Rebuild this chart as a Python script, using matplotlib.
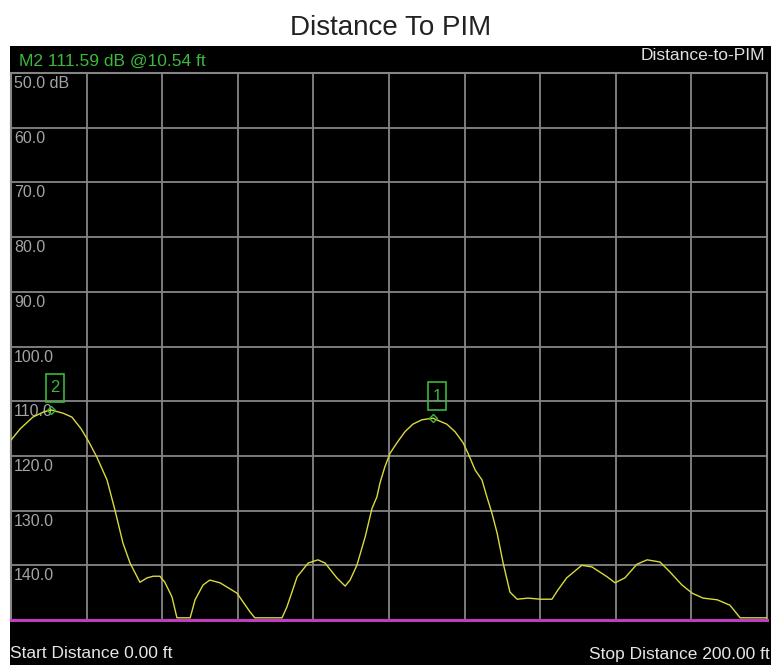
import matplotlib
matplotlib.use("Agg")
import matplotlib.pyplot as plt
from matplotlib.patches import Rectangle

plt.rcParams['font.family'] = ['Liberation Sans', 'DejaVu Sans']

# trace (distance in ft, level in dB)
dist_ft = [0.0, 2.5, 5.8, 8.5, 10.54, 13.8, 16.1, 18.5, 20.4, 22.7,
           25.4, 27.5, 29.6, 31.5, 34.1, 36.0, 37.6, 39.4, 40.7, 42.6,
           43.9, 47.4, 48.7, 50.8, 52.6, 55.3, 59.8, 63.2, 64.5, 71.7,
           73.0, 75.7, 78.6, 81.2, 83.1, 86.2, 88.4, 89.7, 91.5, 93.7,
           95.5, 96.8, 97.6, 98.9, 100.3, 102.1, 104.2, 106.3, 108.7, 111.6,
           115.3, 117.5, 119.6, 120.9, 122.8, 124.6, 125.9, 127.2, 128.6, 130.2,
           132.0, 133.9, 136.8, 140.0, 143.1, 144.7, 147.0, 151.0, 153.7, 157.7,
           159.8, 162.4, 165.6, 168.3, 171.7, 174.3, 177.5, 180.2, 183.1, 186.8,
           190.2, 192.9, 200.0]
level_db = [117.1, 115.0, 112.9, 112.0, 111.59, 112.2, 112.9, 115.0, 117.2, 120.2,
            124.4, 129.9, 135.9, 139.6, 143.1, 142.3, 142.0, 142.0, 143.1, 145.8,
            149.6, 149.6, 146.3, 143.6, 142.7, 143.2, 145.1, 148.5, 149.6, 149.6,
            147.6, 142.1, 139.6, 139.0, 139.6, 142.3, 143.8, 142.7, 140.0, 134.8,
            129.6, 127.5, 125.0, 122.0, 119.5, 117.6, 115.6, 114.2, 113.4, 113.1,
            114.2, 115.6, 117.6, 119.5, 122.6, 124.4, 127.5, 130.4, 134.1, 139.6,
            144.9, 146.2, 146.0, 146.2, 146.2, 144.5, 142.3, 140.0, 140.3, 142.1,
            143.2, 142.3, 139.8, 139.0, 139.4, 141.2, 143.6, 145.1, 146.0, 146.3,
            147.3, 149.6, 149.6]

# markers: number, distance, level
marker_ids = ['1', '2']
marker_ft = [111.6, 10.54]
marker_db = [113.1, 111.59]

y_ticks = [50, 60, 70, 80, 90, 100, 110, 120, 130, 140]

yellow = '#dada3c'
green = '#3cb83c'
grid_gray = '#858585'
label_gray = '#a4a4a4'

fig = plt.figure(figsize=(7.71, 6.65), dpi=100)
fig.patch.set_facecolor('white')
fig.patches.append(Rectangle((10 / 771, 0), 1, 1 - 46 / 665, transform=fig.transFigure,
                             facecolor='black', edgecolor='none', zorder=-1))

fig.text(0.506, 1 - 28 / 665, 'Distance To PIM', ha='center', va='center',
         fontsize=20, color='#222222')

ax = fig.add_axes([11 / 771, 1 - 620 / 665, 756 / 771, 547 / 665])
ax.set_zorder(2)
ax.set_facecolor('black')
ax.set_xlim(0, 200)
ax.set_ylim(150, 50)
ax.set_xticks(range(0, 201, 20))
ax.set_yticks(range(50, 151, 10))
ax.tick_params(length=0, labelbottom=False, labelleft=False)
ax.grid(True, color=grid_gray, lw=1.3)
ax.set_axisbelow(True)
for s in ax.spines.values():
    s.set_color(grid_gray)
    s.set_linewidth(1.5)

for v in y_ticks:
    txt = f'{v:.1f}' + (' dB' if v == 50 else '')
    ax.annotate(txt, xy=(0, v), xycoords=('axes fraction', 'data'),
                xytext=(2.2, -2.2), textcoords='offset points',
                ha='left', va='top', fontsize=11.5, color=label_gray)

ax.plot(dist_ft, level_db, color=yellow, lw=1.0, zorder=3)
ax.axhline(150, color='#c03cc0', lw=2.2, clip_on=False, zorder=4)

# marker diamonds with their numbered boxes above
box_w, box_h, gap = 4.6, 5.1, 1.5
for mid, mx, my in zip(marker_ids, marker_ft, marker_db):
    ax.plot([mx], [my], marker='D', ms=4.5, mfc='none', mec=green, mew=1.0, zorder=5)
    cx = mx + 1.1
    bottom = my - gap
    ax.add_patch(Rectangle((cx - box_w / 2, bottom - box_h), box_w, box_h,
                           fill=False, ec=green, lw=1.2, zorder=5))
    ax.text(cx, bottom - box_h / 2, mid, ha='center', va='center',
            fontsize=12, color=green, zorder=6)

fig.text(19 / 771, 1 - 61 / 665, 'M2 111.59 dB @10.54 ft', ha='left', va='center',
         fontsize=12.5, color=green)
fig.text(765 / 771, 1 - 56 / 665, 'Distance-to-PIM', ha='right', va='center',
         fontsize=12.5, color='#e0e0e0')
fig.text(10 / 771, 1 - 654 / 665, 'Start Distance 0.00 ft', ha='left', va='center',
         fontsize=12.5, color='#e6e6e6')
fig.text(770 / 771, 1 - 654 / 665, 'Stop Distance 200.00 ft', ha='right', va='center',
         fontsize=12.5, color='#e6e6e6')

fig.savefig('out.png', dpi=100, facecolor=fig.get_facecolor())
